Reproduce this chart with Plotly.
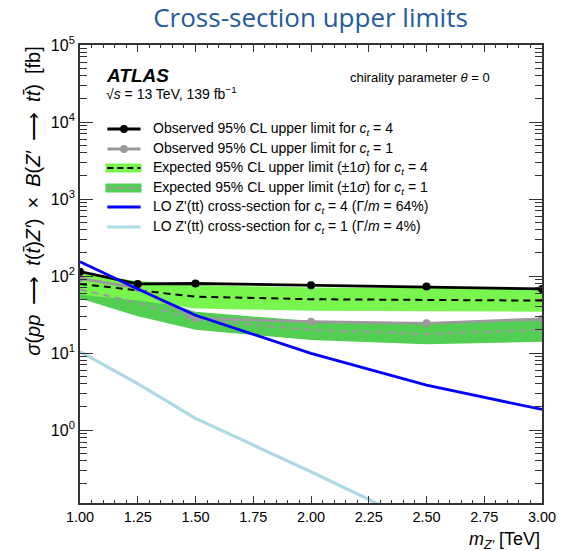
import plotly.graph_objects as go
import math

# ---------------- data ----------------
mass = [1.0, 1.25, 1.5, 2.0, 2.5, 3.0]
obs_ct4 = [114, 79, 80, 76, 73, 68]
obs_ct1 = [93, 70, 28.3, 25.5, 24.3, 27.7]
exp_ct4 = [79, 66, 54, 50, 49, 48]
exp_ct4_up = [108, 86, 76, 71, 70, 69]
exp_ct4_dn = [57, 48, 38, 35.4, 35, 34.4]
exp_ct1 = [67, 45, 27, 20, 17.7, 20]
exp_ct1_up = [89, 60, 34.4, 26, 24.5, 27]
exp_ct1_dn = [51, 30, 20, 14.8, 13, 14]
lo_ct4 = [153, 68, 31, 9.9, 3.84, 1.85]
lo_ct1 = [10.4, 4.0, 1.42, 0.287, 0.055, 0.012]

x_ticks = [1.0, 1.25, 1.5, 1.75, 2.0, 2.25, 2.5, 2.75, 3.0]
y_major = [1, 10, 100, 1000, 10000, 100000]
y_major_text = ["10<sup>0</sup>", "10<sup>1</sup>", "10<sup>2</sup>",
                "10<sup>3</sup>", "10<sup>4</sup>", "10<sup>5</sup>"]
y_min, y_max = 0.113, 1e5

legend_labels = [
    "Observed 95% CL upper limit for <i>c</i><sub><i>t</i></sub> = 4",
    "Observed 95% CL upper limit for <i>c</i><sub><i>t</i></sub> = 1",
    "Expected 95% CL upper limit (±1<i>σ</i>) for <i>c</i><sub><i>t</i></sub> = 4",
    "Expected 95% CL upper limit (±1<i>σ</i>) for <i>c</i><sub><i>t</i></sub> = 1",
    "LO Z'(tt) cross-section for <i>c</i><sub><i>t</i></sub> = 4 (Γ/<i>m</i> = 64%)",
    "LO Z'(tt) cross-section for <i>c</i><sub><i>t</i></sub> = 1 (Γ/<i>m</i> = 4%)",
]

# ---------------- styles ----------------
BRIGHT = "#78f54e"
DARK = "#52cf52"
GREY = "#9a9a9a"
BLUE = "#0000ff"
LIGHTBLUE = "#add8e6"
FONT = "Liberation Sans, Arial, sans-serif"

W, H = 568, 551
ML, MR, MT, MB = 80, 15, 45, 48
PW, PH = W - ML - MR, H - MT - MB


def px(xp):
    return (xp - ML) / PW


def py(yp):
    return (H - MB - yp) / PH


y_minor = [m * 10 ** e for e in range(-1, 5) for m in range(2, 10) if y_min <= m * 10 ** e <= y_max]

fig = go.Figure()

# bands
fig.add_trace(go.Scatter(x=mass + mass[::-1], y=exp_ct1_up + exp_ct1_dn[::-1],
                         fill="toself", fillcolor=DARK, line=dict(width=0),
                         mode="lines", hoverinfo="skip", showlegend=False))
fig.add_trace(go.Scatter(x=mass + mass[::-1], y=exp_ct4_up + exp_ct4_dn[::-1],
                         fill="toself", fillcolor=BRIGHT, line=dict(width=0),
                         mode="lines", hoverinfo="skip", showlegend=False))
# expected
fig.add_trace(go.Scatter(x=mass, y=exp_ct1, mode="lines",
                         line=dict(color=GREY, width=2, dash="7px,5px"), showlegend=False))
fig.add_trace(go.Scatter(x=mass, y=exp_ct4, mode="lines",
                         line=dict(color="black", width=2, dash="7px,5px"), showlegend=False))
# observed
fig.add_trace(go.Scatter(x=mass, y=obs_ct1, mode="lines+markers",
                         line=dict(color=GREY, width=2.8), marker=dict(color=GREY, size=8),
                         showlegend=False))
fig.add_trace(go.Scatter(x=mass, y=obs_ct4, mode="lines+markers",
                         line=dict(color="black", width=2.8), marker=dict(color="black", size=8),
                         showlegend=False))
# theory
fig.add_trace(go.Scatter(x=mass, y=lo_ct4, mode="lines",
                         line=dict(color=BLUE, width=2.8), showlegend=False))
fig.add_trace(go.Scatter(x=mass, y=lo_ct1, mode="lines",
                         line=dict(color=LIGHTBLUE, width=3.2), showlegend=False))

axis_line = dict(showline=True, linecolor="#333", linewidth=1.8, mirror="ticks",
                 showgrid=False, zeroline=False, ticks="inside", tickcolor="#333")

fig.update_xaxes(range=[1.0, 3.0], tickvals=x_ticks, tickformat=".2f", ticklen=7, tickwidth=1.2,
                 minor=dict(ticks="inside", dtick=0.05, ticklen=3.5, tickcolor="#333", tickwidth=1.2),
                 tickfont=dict(family=FONT, size=14.5, color="black"), **axis_line)
fig.update_yaxes(type="log", range=[math.log10(y_min), math.log10(y_max)],
                 tickvals=y_major, ticktext=y_major_text, ticklen=13, tickwidth=1.2,
                 minor=dict(ticks="inside", tickmode="array", tickvals=y_minor, ticklen=7,
                            tickcolor="#333", tickwidth=1.2),
                 tickfont=dict(family=FONT, size=16, color="black"), **axis_line)

EN = "\u2002"
ARROW = "⟶"
ytitle = ("<i>σ</i>(<i>pp</i>" + EN + ARROW + EN + "<i>t</i>(<i>t̄</i>)<i>Z′</i>)" + EN + "×" + EN
          + "<i>B</i>(<i>Z′</i>" + EN + ARROW + EN + "<i>tt̄</i>)" + EN + "[fb]")
ann = []
ann.append(dict(text=ytitle,
                xref="paper", yref="paper", x=px(31), y=1.0, xanchor="center", yanchor="top",
                textangle=-90, showarrow=False, font=dict(family=FONT, size=20, color="black")))
ann.append(dict(text="<i>m</i><sub><i>Z′</i></sub> [TeV]", xref="paper", yref="paper",
                x=1.0, y=py(540), xanchor="right", yanchor="middle", showarrow=False,
                font=dict(family=FONT, size=18, color="black")))
ann.append(dict(text="<b><i>ATLAS</i></b>", xref="paper", yref="paper", x=px(105), y=py(75),
                xanchor="left", yanchor="middle", showarrow=False,
                font=dict(family=FONT, size=19, color="black")))
ann.append(dict(text="√<i>s</i> = 13 TeV, 139 fb<sup>−1</sup>", xref="paper", yref="paper",
                x=px(105), y=py(93), xanchor="left", yanchor="middle", showarrow=False,
                font=dict(family=FONT, size=14, color="black")))
ann.append(dict(text="chirality parameter <i>θ</i> = 0", xref="paper", yref="paper",
                x=px(502), y=py(77), xanchor="right", yanchor="middle", showarrow=False,
                font=dict(family=FONT, size=13, color="black")))

rows = [129, 149, 168, 188, 207, 227]
shapes = []
x0, x1 = px(108), px(142)
for i, (lab, yr) in enumerate(zip(legend_labels, rows)):
    ann.append(dict(text=lab, xref="paper", yref="paper", x=px(153), y=py(yr),
                    xanchor="left", yanchor="middle", showarrow=False,
                    font=dict(family=FONT, size=14, color="black")))
    y = py(yr)
    if i in (0, 1):
        col = "black" if i == 0 else GREY
        shapes.append(dict(type="line", xref="paper", yref="paper", x0=x0, x1=x1, y0=y, y1=y,
                           line=dict(color=col, width=2.8)))
        shapes.append(dict(type="circle", xref="paper", yref="paper",
                           x0=px(121), x1=px(129), y0=py(yr + 4), y1=py(yr - 4),
                           fillcolor=col, line=dict(color=col, width=0)))
    elif i in (2, 3):
        fillc = BRIGHT if i == 2 else DARK
        col = "black" if i == 2 else GREY
        shapes.append(dict(type="rect", xref="paper", yref="paper", x0=px(106), x1=px(143),
                           y0=py(yr + 4.5), y1=py(yr - 4.5), fillcolor=fillc, line=dict(width=0)))
        shapes.append(dict(type="line", xref="paper", yref="paper", x0=x0, x1=x1, y0=y, y1=y,
                           line=dict(color=col, width=2, dash="6px,4px")))
    else:
        col = BLUE if i == 4 else LIGHTBLUE
        shapes.append(dict(type="line", xref="paper", yref="paper", x0=x0, x1=x1, y0=y, y1=y,
                           line=dict(color=col, width=2.8 if i == 4 else 3.2)))

fig.update_layout(
    width=W, height=H, margin=dict(l=ML, r=MR, t=MT, b=MB),
    paper_bgcolor="white", plot_bgcolor="white",
    title=dict(text="Cross-section upper limits", x=px(316), xanchor="center",
               y=1 - 18 / H, yanchor="middle", xref="paper",
               font=dict(family="Open Sans, sans-serif", size=26, color="#1f5aa3")),
    annotations=ann, shapes=shapes, showlegend=False,
)

fig.write_html("out.html")
